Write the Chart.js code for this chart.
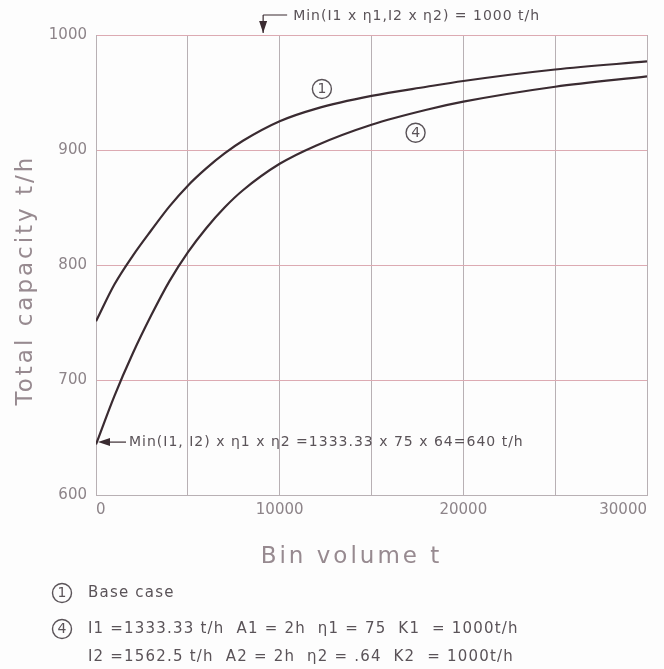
<!DOCTYPE html>
<html>
<head>
<meta charset="utf-8">
<script src="https://cdn.jsdelivr.net/npm/chart.js@4.4.0/dist/chart.umd.min.js"></script>
<style>
  html, body { margin: 0; padding: 0; background: #fdfdfd; overflow: hidden; }
  #wrap { width: 677px; height: 669px; position: relative; }
</style>
</head>
<body>
<div id="wrap"><canvas id="capChart"></canvas></div>
<script>
// bin volume (t) and total capacity (t/h)
const volumes  = [0, 1000, 2000, 3000, 4000, 5000, 6000, 7000, 8000, 10000, 12000, 15000, 18000, 20000, 25000, 30000];
const baseCase = [751, 783, 808, 830, 851, 869, 884, 897, 908, 925, 936, 947, 955, 960, 970, 977];
const case4    = [644, 686, 723, 756, 786, 811, 832, 850, 865, 888, 904, 922, 935, 942, 955, 964];

const xTickLabels = [0, 10000, 20000, 30000];
const yTicks = [600, 700, 800, 900, 1000];

const curveLabels = [
  { text: '1', x: 12300, y: 953 },
  { text: '4', x: 17400, y: 915 }
];

const topNote = 'Min(I1 x η1,I2 x η2) = 1000 t/h';
const bottomNote = 'Min(I1, I2) x η1 x η2 =1333.33 x 75 x 64=640 t/h';
const legendLines = [
  { mark: '1', text: 'Base case' },
  { mark: '4', text: 'I1 =1333.33 t/h  A1 = 2h  η1 = 75  K1  = 1000t/h' },
  { mark: '',  text: 'I2 =1562.5 t/h  A2 = 2h  η2 = .64  K2  = 1000t/h' }
];

const inkColor = '#3a2b31';
const textColor = '#5a5358';
const axisTextColor = '#8d8489';

function circled(ctx, cx, cy, label) {
  ctx.beginPath();
  ctx.arc(cx, cy, 9.5, 0, Math.PI * 2);
  ctx.lineWidth = 1.4;
  ctx.strokeStyle = textColor;
  ctx.stroke();
  ctx.fillStyle = textColor;
  ctx.font = '14px "DejaVu Sans"';
  ctx.letterSpacing = '0px';
  ctx.textAlign = 'center';
  ctx.textBaseline = 'middle';
  ctx.fillText(label, cx, cy + 0.5);
}

// draws axis titles, notes, circled curve numbers and the bottom key
const notesPlugin = {
  id: 'notes',
  afterDraw(chart) {
    const ctx = chart.ctx;
    const xs = chart.scales.x, ys = chart.scales.y;
    const area = chart.chartArea;
    ctx.save();

    // axis titles
    ctx.fillStyle = '#978a90';
    ctx.font = '23px "DejaVu Sans"';
    ctx.letterSpacing = '3px';
    ctx.textAlign = 'center';
    ctx.textBaseline = 'middle';
    ctx.fillText('Bin volume t', (area.left + area.right) / 2 - 20, 557);
    ctx.save();
    ctx.translate(26, 280);
    ctx.rotate(-Math.PI / 2);
    ctx.fillText('Total capacity t/h', 0, 0);
    ctx.restore();

    // circled curve numbers
    curveLabels.forEach(l => circled(ctx, xs.getPixelForValue(l.x), ys.getPixelForValue(l.y), l.text));

    // top note with down arrow onto the 1000 line
    const ax = xs.getPixelForValue(9100);
    const ay = ys.getPixelForValue(1000);
    ctx.strokeStyle = inkColor;
    ctx.fillStyle = inkColor;
    ctx.lineWidth = 1.2;
    ctx.beginPath();
    ctx.moveTo(ax, ay - 20);
    ctx.lineTo(ax, ay - 2);
    ctx.moveTo(ax, ay - 20);
    ctx.lineTo(ax + 24, ay - 20);
    ctx.stroke();
    ctx.beginPath();
    ctx.moveTo(ax - 4, ay - 14);
    ctx.lineTo(ax + 4, ay - 14);
    ctx.lineTo(ax, ay - 2);
    ctx.closePath();
    ctx.fill();
    ctx.fillStyle = textColor;
    ctx.font = '14px "DejaVu Sans"';
    ctx.letterSpacing = '1px';
    ctx.textAlign = 'left';
    ctx.textBaseline = 'middle';
    ctx.fillText(topNote, ax + 30, ay - 19);

    // bottom note with left arrow onto the start of curve 4
    const bx = xs.getPixelForValue(0) + 2;
    const by = ys.getPixelForValue(646);
    ctx.fillStyle = inkColor;
    ctx.beginPath();
    ctx.moveTo(bx + 28, by);
    ctx.lineTo(bx + 10, by);
    ctx.stroke();
    ctx.beginPath();
    ctx.moveTo(bx, by);
    ctx.lineTo(bx + 12, by - 4);
    ctx.lineTo(bx + 12, by + 4);
    ctx.closePath();
    ctx.fill();
    ctx.fillStyle = textColor;
    ctx.fillText(bottomNote, bx + 31, by);

    // key below the chart
    const rows = [593, 629, 657];
    legendLines.forEach((row, i) => {
      if (row.mark) circled(ctx, 62, rows[i], row.mark);
      ctx.fillStyle = textColor;
      ctx.font = '15px "DejaVu Sans"';
      ctx.letterSpacing = '1.2px';
      ctx.textAlign = 'left';
      ctx.textBaseline = 'middle';
      ctx.fillText(row.text, 88, rows[i]);
    });

    ctx.restore();
  }
};

const cfg = {
  type: 'line',
  data: {
    datasets: [
      { label: 'Base case', data: volumes.map((v, i) => ({ x: v, y: baseCase[i] })) },
      { label: 'Case 4', data: volumes.map((v, i) => ({ x: v, y: case4[i] })) }
    ].map(d => Object.assign(d, {
      borderColor: inkColor,
      borderWidth: 2.2,
      pointRadius: 0,
      cubicInterpolationMode: 'monotone',
      fill: false
    }))
  },
  options: {
    responsive: true,
    maintainAspectRatio: false,
    animation: false,
    layout: { padding: { left: 0, top: 35, right: 30, bottom: 144 } },
    plugins: { legend: { display: false }, tooltip: { enabled: false } },
    scales: {
      x: {
        type: 'linear',
        min: 0,
        max: 30000,
        afterFit: s => { s.height = 30; },
        ticks: {
          stepSize: 5000,
          autoSkip: false,
          maxRotation: 0,
          align: 'inner',
          padding: 6,
          color: axisTextColor,
          font: { family: 'DejaVu Sans', size: 15 },
          callback: v => xTickLabels.includes(v) ? String(v) : ''
        },
        grid: { color: '#b8b0b4', lineWidth: 1, drawTicks: false },
        border: { color: '#b8b0b4' }
      },
      y: {
        min: 600,
        max: 1000,
        afterFit: s => { s.width = 96; },
        ticks: {
          stepSize: 100,
          padding: 9,
          color: axisTextColor,
          font: { family: 'DejaVu Sans', size: 15 },
          callback: v => yTicks.includes(v) ? String(v) : ''
        },
        grid: { color: '#dcaab2', lineWidth: 1, drawTicks: false },
        border: { color: '#b8b0b4' }
      }
    }
  },
  plugins: [notesPlugin]
};

new Chart(document.getElementById('capChart').getContext('2d'), cfg);
</script>
</body>
</html>
